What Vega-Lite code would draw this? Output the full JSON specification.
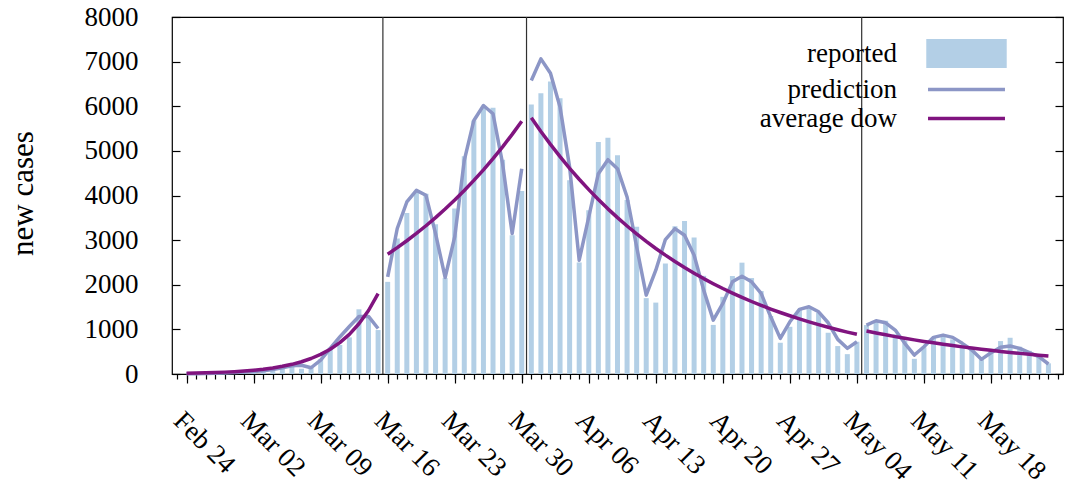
{
  "$schema": "https://vega.github.io/schema/vega-lite/v6.json",
  "width": 891,
  "height": 357,
  "autosize": "none",
  "padding": {"left": 172, "top": 17, "right": 2, "bottom": 113},
  "background": "white",
  "config": {
    "font": "Liberation Serif",
    "view": {"stroke": "black", "strokeWidth": 1.2},
    "axis": {
      "domain": false,
      "grid": false,
      "tickColor": "black",
      "tickWidth": 1.2,
      "labelColor": "black",
      "labelFont": "Liberation Serif",
      "labelFontSize": 27,
      "titleFont": "Liberation Serif",
      "titleColor": "black",
      "titleFontWeight": "normal"
    }
  },
  "datasets": {
    "reported": [
      {"date": "2020-02-24", "cases": 1}, {"date": "2020-02-25", "cases": 2}, {"date": "2020-02-26", "cases": 15},
      {"date": "2020-02-27", "cases": 20}, {"date": "2020-02-28", "cases": 25}, {"date": "2020-02-29", "cases": 20},
      {"date": "2020-03-01", "cases": 55}, {"date": "2020-03-02", "cases": 30}, {"date": "2020-03-03", "cases": 60},
      {"date": "2020-03-04", "cases": 80}, {"date": "2020-03-05", "cases": 130}, {"date": "2020-03-06", "cases": 165},
      {"date": "2020-03-07", "cases": 120}, {"date": "2020-03-08", "cases": 150}, {"date": "2020-03-09", "cases": 330},
      {"date": "2020-03-10", "cases": 590}, {"date": "2020-03-11", "cases": 650}, {"date": "2020-03-12", "cases": 820},
      {"date": "2020-03-13", "cases": 1450}, {"date": "2020-03-14", "cases": 1260}, {"date": "2020-03-15", "cases": 985},
      {"date": "2020-03-16", "cases": 2065}, {"date": "2020-03-17", "cases": 3035}, {"date": "2020-03-18", "cases": 3610},
      {"date": "2020-03-19", "cases": 4080}, {"date": "2020-03-20", "cases": 4040}, {"date": "2020-03-21", "cases": 3355},
      {"date": "2020-03-22", "cases": 2150}, {"date": "2020-03-23", "cases": 3706}, {"date": "2020-03-24", "cases": 4877},
      {"date": "2020-03-25", "cases": 5682}, {"date": "2020-03-26", "cases": 5990}, {"date": "2020-03-27", "cases": 5966},
      {"date": "2020-03-28", "cases": 4800}, {"date": "2020-03-29", "cases": 3110}, {"date": "2020-03-30", "cases": 4100},
      {"date": "2020-03-31", "cases": 6040}, {"date": "2020-04-01", "cases": 6293}, {"date": "2020-04-02", "cases": 6555},
      {"date": "2020-04-03", "cases": 6182}, {"date": "2020-04-04", "cases": 4340}, {"date": "2020-04-05", "cases": 2500},
      {"date": "2020-04-06", "cases": 3668}, {"date": "2020-04-07", "cases": 5197}, {"date": "2020-04-08", "cases": 5295},
      {"date": "2020-04-09", "cases": 4900}, {"date": "2020-04-10", "cases": 3900}, {"date": "2020-04-11", "cases": 3300},
      {"date": "2020-04-12", "cases": 1700}, {"date": "2020-04-13", "cases": 1600}, {"date": "2020-04-14", "cases": 2476},
      {"date": "2020-04-15", "cases": 3310}, {"date": "2020-04-16", "cases": 3430}, {"date": "2020-04-17", "cases": 3057},
      {"date": "2020-04-18", "cases": 2200}, {"date": "2020-04-19", "cases": 1100}, {"date": "2020-04-20", "cases": 1729},
      {"date": "2020-04-21", "cases": 2195}, {"date": "2020-04-22", "cases": 2495}, {"date": "2020-04-23", "cases": 2150},
      {"date": "2020-04-24", "cases": 1860}, {"date": "2020-04-25", "cases": 1300}, {"date": "2020-04-26", "cases": 700},
      {"date": "2020-04-27", "cases": 1058}, {"date": "2020-04-28", "cases": 1447}, {"date": "2020-04-29", "cases": 1470},
      {"date": "2020-04-30", "cases": 1372}, {"date": "2020-05-01", "cases": 924}, {"date": "2020-05-02", "cases": 626},
      {"date": "2020-05-03", "cases": 445}, {"date": "2020-05-04", "cases": 723}, {"date": "2020-05-05", "cases": 1096},
      {"date": "2020-05-06", "cases": 1170}, {"date": "2020-05-07", "cases": 1193}, {"date": "2020-05-08", "cases": 890},
      {"date": "2020-05-09", "cases": 750}, {"date": "2020-05-10", "cases": 340}, {"date": "2020-05-11", "cases": 600},
      {"date": "2020-05-12", "cases": 820}, {"date": "2020-05-13", "cases": 872}, {"date": "2020-05-14", "cases": 776},
      {"date": "2020-05-15", "cases": 649}, {"date": "2020-05-16", "cases": 537}, {"date": "2020-05-17", "cases": 330},
      {"date": "2020-05-18", "cases": 555}, {"date": "2020-05-19", "cases": 738}, {"date": "2020-05-20", "cases": 812},
      {"date": "2020-05-21", "cases": 611}, {"date": "2020-05-22", "cases": 520}, {"date": "2020-05-23", "cases": 405},
      {"date": "2020-05-24", "cases": 239}
    ],
    "prediction": [
      {"date": "2020-02-24", "cases": 5, "period": 1}, {"date": "2020-02-25", "cases": 8, "period": 1},
      {"date": "2020-02-26", "cases": 12, "period": 1}, {"date": "2020-02-27", "cases": 18, "period": 1},
      {"date": "2020-02-28", "cases": 25, "period": 1}, {"date": "2020-02-29", "cases": 32, "period": 1},
      {"date": "2020-03-01", "cases": 42, "period": 1}, {"date": "2020-03-02", "cases": 55, "period": 1},
      {"date": "2020-03-03", "cases": 75, "period": 1}, {"date": "2020-03-04", "cases": 100, "period": 1},
      {"date": "2020-03-05", "cases": 140, "period": 1}, {"date": "2020-03-06", "cases": 185, "period": 1},
      {"date": "2020-03-07", "cases": 195, "period": 1}, {"date": "2020-03-08", "cases": 140, "period": 1},
      {"date": "2020-03-09", "cases": 310, "period": 1}, {"date": "2020-03-10", "cases": 575, "period": 1},
      {"date": "2020-03-11", "cases": 830, "period": 1}, {"date": "2020-03-12", "cases": 1065, "period": 1},
      {"date": "2020-03-13", "cases": 1290, "period": 1}, {"date": "2020-03-14", "cases": 1290, "period": 1},
      {"date": "2020-03-15", "cases": 1020, "period": 1},
      {"date": "2020-03-16", "cases": 2177, "period": 2}, {"date": "2020-03-17", "cases": 3260, "period": 2},
      {"date": "2020-03-18", "cases": 3855, "period": 2}, {"date": "2020-03-19", "cases": 4116, "period": 2},
      {"date": "2020-03-20", "cases": 4004, "period": 2}, {"date": "2020-03-21", "cases": 3147, "period": 2},
      {"date": "2020-03-22", "cases": 2163, "period": 2}, {"date": "2020-03-23", "cases": 3072, "period": 2},
      {"date": "2020-03-24", "cases": 4787, "period": 2}, {"date": "2020-03-25", "cases": 5682, "period": 2},
      {"date": "2020-03-26", "cases": 6017, "period": 2}, {"date": "2020-03-27", "cases": 5831, "period": 2},
      {"date": "2020-03-28", "cases": 4713, "period": 2}, {"date": "2020-03-29", "cases": 3147, "period": 2},
      {"date": "2020-03-30", "cases": 4601, "period": 2},
      {"date": "2020-03-31", "cases": 6577, "period": 3}, {"date": "2020-04-01", "cases": 7062, "period": 3},
      {"date": "2020-04-02", "cases": 6741, "period": 3}, {"date": "2020-04-03", "cases": 5980, "period": 3},
      {"date": "2020-04-04", "cases": 4638, "period": 3}, {"date": "2020-04-05", "cases": 2550, "period": 3},
      {"date": "2020-04-06", "cases": 3519, "period": 3}, {"date": "2020-04-07", "cases": 4489, "period": 3},
      {"date": "2020-04-08", "cases": 4802, "period": 3}, {"date": "2020-04-09", "cases": 4601, "period": 3},
      {"date": "2020-04-10", "cases": 3966, "period": 3}, {"date": "2020-04-11", "cases": 2847, "period": 3},
      {"date": "2020-04-12", "cases": 1767, "period": 3}, {"date": "2020-04-13", "cases": 2326, "period": 3},
      {"date": "2020-04-14", "cases": 3013, "period": 3}, {"date": "2020-04-15", "cases": 3259, "period": 3},
      {"date": "2020-04-16", "cases": 3109, "period": 3}, {"date": "2020-04-17", "cases": 2662, "period": 3},
      {"date": "2020-04-18", "cases": 1879, "period": 3}, {"date": "2020-04-19", "cases": 1208, "period": 3},
      {"date": "2020-04-20", "cases": 1581, "period": 3}, {"date": "2020-04-21", "cases": 2065, "period": 3},
      {"date": "2020-04-22", "cases": 2192, "period": 3}, {"date": "2020-04-23", "cases": 2065, "period": 3},
      {"date": "2020-04-24", "cases": 1805, "period": 3}, {"date": "2020-04-25", "cases": 1282, "period": 3},
      {"date": "2020-04-26", "cases": 799, "period": 3}, {"date": "2020-04-27", "cases": 1170, "period": 3},
      {"date": "2020-04-28", "cases": 1447, "period": 3}, {"date": "2020-04-29", "cases": 1506, "period": 3},
      {"date": "2020-04-30", "cases": 1394, "period": 3}, {"date": "2020-05-01", "cases": 1148, "period": 3},
      {"date": "2020-05-02", "cases": 776, "period": 3}, {"date": "2020-05-03", "cases": 575, "period": 3},
      {"date": "2020-05-04", "cases": 723, "period": 3},
      {"date": "2020-05-05", "cases": 1096, "period": 4}, {"date": "2020-05-06", "cases": 1193, "period": 4},
      {"date": "2020-05-07", "cases": 1148, "period": 4}, {"date": "2020-05-08", "cases": 984, "period": 4},
      {"date": "2020-05-09", "cases": 687, "period": 4}, {"date": "2020-05-10", "cases": 425, "period": 4},
      {"date": "2020-05-11", "cases": 611, "period": 4}, {"date": "2020-05-12", "cases": 821, "period": 4},
      {"date": "2020-05-13", "cases": 872, "period": 4}, {"date": "2020-05-14", "cases": 821, "period": 4},
      {"date": "2020-05-15", "cases": 687, "period": 4}, {"date": "2020-05-16", "cases": 537, "period": 4},
      {"date": "2020-05-17", "cases": 329, "period": 4}, {"date": "2020-05-18", "cases": 477, "period": 4},
      {"date": "2020-05-19", "cases": 597, "period": 4}, {"date": "2020-05-20", "cases": 626, "period": 4},
      {"date": "2020-05-21", "cases": 575, "period": 4}, {"date": "2020-05-22", "cases": 477, "period": 4},
      {"date": "2020-05-23", "cases": 388, "period": 4}, {"date": "2020-05-24", "cases": 224, "period": 4}
    ],
    "average": [
      {"date": "2020-02-24", "cases": 16, "period": 1}, {"date": "2020-02-25", "cases": 21, "period": 1},
      {"date": "2020-02-26", "cases": 26, "period": 1}, {"date": "2020-02-27", "cases": 33, "period": 1},
      {"date": "2020-02-28", "cases": 42, "period": 1}, {"date": "2020-02-29", "cases": 53, "period": 1},
      {"date": "2020-03-01", "cases": 67, "period": 1}, {"date": "2020-03-02", "cases": 85, "period": 1},
      {"date": "2020-03-03", "cases": 107, "period": 1}, {"date": "2020-03-04", "cases": 136, "period": 1},
      {"date": "2020-03-05", "cases": 172, "period": 1}, {"date": "2020-03-06", "cases": 217, "period": 1},
      {"date": "2020-03-07", "cases": 275, "period": 1}, {"date": "2020-03-08", "cases": 347, "period": 1},
      {"date": "2020-03-09", "cases": 439, "period": 1}, {"date": "2020-03-10", "cases": 556, "period": 1},
      {"date": "2020-03-11", "cases": 703, "period": 1}, {"date": "2020-03-12", "cases": 889, "period": 1},
      {"date": "2020-03-13", "cases": 1125, "period": 1}, {"date": "2020-03-14", "cases": 1423, "period": 1},
      {"date": "2020-03-15", "cases": 1800, "period": 1},
      {"date": "2020-03-16", "cases": 2684, "period": 2}, {"date": "2020-03-17", "cases": 2831, "period": 2},
      {"date": "2020-03-18", "cases": 2986, "period": 2}, {"date": "2020-03-19", "cases": 3150, "period": 2},
      {"date": "2020-03-20", "cases": 3322, "period": 2}, {"date": "2020-03-21", "cases": 3504, "period": 2},
      {"date": "2020-03-22", "cases": 3696, "period": 2}, {"date": "2020-03-23", "cases": 3899, "period": 2},
      {"date": "2020-03-24", "cases": 4112, "period": 2}, {"date": "2020-03-25", "cases": 4338, "period": 2},
      {"date": "2020-03-26", "cases": 4575, "period": 2}, {"date": "2020-03-27", "cases": 4826, "period": 2},
      {"date": "2020-03-28", "cases": 5091, "period": 2}, {"date": "2020-03-29", "cases": 5370, "period": 2},
      {"date": "2020-03-30", "cases": 5664, "period": 2},
      {"date": "2020-03-31", "cases": 5742, "period": 3}, {"date": "2020-04-01", "cases": 5435, "period": 3},
      {"date": "2020-04-02", "cases": 5145, "period": 3}, {"date": "2020-04-03", "cases": 4870, "period": 3},
      {"date": "2020-04-04", "cases": 4610, "period": 3}, {"date": "2020-04-05", "cases": 4364, "period": 3},
      {"date": "2020-04-06", "cases": 4131, "period": 3}, {"date": "2020-04-07", "cases": 3910, "period": 3},
      {"date": "2020-04-08", "cases": 3701, "period": 3}, {"date": "2020-04-09", "cases": 3504, "period": 3},
      {"date": "2020-04-10", "cases": 3317, "period": 3}, {"date": "2020-04-11", "cases": 3140, "period": 3},
      {"date": "2020-04-12", "cases": 2972, "period": 3}, {"date": "2020-04-13", "cases": 2813, "period": 3},
      {"date": "2020-04-14", "cases": 2663, "period": 3}, {"date": "2020-04-15", "cases": 2521, "period": 3},
      {"date": "2020-04-16", "cases": 2386, "period": 3}, {"date": "2020-04-17", "cases": 2259, "period": 3},
      {"date": "2020-04-18", "cases": 2138, "period": 3}, {"date": "2020-04-19", "cases": 2024, "period": 3},
      {"date": "2020-04-20", "cases": 1916, "period": 3}, {"date": "2020-04-21", "cases": 1814, "period": 3},
      {"date": "2020-04-22", "cases": 1717, "period": 3}, {"date": "2020-04-23", "cases": 1625, "period": 3},
      {"date": "2020-04-24", "cases": 1538, "period": 3}, {"date": "2020-04-25", "cases": 1456, "period": 3},
      {"date": "2020-04-26", "cases": 1378, "period": 3}, {"date": "2020-04-27", "cases": 1305, "period": 3},
      {"date": "2020-04-28", "cases": 1235, "period": 3}, {"date": "2020-04-29", "cases": 1169, "period": 3},
      {"date": "2020-04-30", "cases": 1107, "period": 3}, {"date": "2020-05-01", "cases": 1048, "period": 3},
      {"date": "2020-05-02", "cases": 992, "period": 3}, {"date": "2020-05-03", "cases": 939, "period": 3},
      {"date": "2020-05-04", "cases": 889, "period": 3},
      {"date": "2020-05-05", "cases": 962, "period": 4}, {"date": "2020-05-06", "cases": 919, "period": 4},
      {"date": "2020-05-07", "cases": 878, "period": 4}, {"date": "2020-05-08", "cases": 838, "period": 4},
      {"date": "2020-05-09", "cases": 801, "period": 4}, {"date": "2020-05-10", "cases": 765, "period": 4},
      {"date": "2020-05-11", "cases": 730, "period": 4}, {"date": "2020-05-12", "cases": 698, "period": 4},
      {"date": "2020-05-13", "cases": 666, "period": 4}, {"date": "2020-05-14", "cases": 637, "period": 4},
      {"date": "2020-05-15", "cases": 608, "period": 4}, {"date": "2020-05-16", "cases": 581, "period": 4},
      {"date": "2020-05-17", "cases": 555, "period": 4}, {"date": "2020-05-18", "cases": 530, "period": 4},
      {"date": "2020-05-19", "cases": 506, "period": 4}, {"date": "2020-05-20", "cases": 484, "period": 4},
      {"date": "2020-05-21", "cases": 462, "period": 4}, {"date": "2020-05-22", "cases": 441, "period": 4},
      {"date": "2020-05-23", "cases": 421, "period": 4}, {"date": "2020-05-24", "cases": 403, "period": 4}
    ],
    "breaks": [
      {"date": "2020-03-15T12:00:00Z"},
      {"date": "2020-03-30T12:00:00Z"},
      {"date": "2020-05-04T12:00:00Z"}
    ]
  },
  "resolve": {"axis": {"x": "independent", "y": "independent"}},
  "layer": [
    {
      "data": {"name": "breaks"},
      "mark": {"type": "rule", "color": "#303030", "strokeWidth": 1.2},
      "encoding": {
        "x": {
          "field": "date",
          "type": "temporal",
          "scale": {
            "type": "utc",
            "domain": [
              {"year": 2020, "month": 2, "date": 23, "utc": true},
              {"year": 2020, "month": 5, "date": 25, "utc": true}
            ]
          },
          "axis": {
            "orient": "bottom",
            "tickCount": {"interval": "day", "step": 1},
            "labels": false,
            "tickSize": 5,
            "title": null
          }
        }
      }
    },
    {
      "data": {"name": "reported"},
      "mark": {"type": "bar", "width": 5},
      "encoding": {
        "x": {
          "field": "date",
          "type": "temporal",
          "axis": {
            "orient": "bottom",
            "values": [
              {"year": 2020, "month": 2, "date": 24, "utc": true},
              {"year": 2020, "month": 3, "date": 2, "utc": true},
              {"year": 2020, "month": 3, "date": 9, "utc": true},
              {"year": 2020, "month": 3, "date": 16, "utc": true},
              {"year": 2020, "month": 3, "date": 23, "utc": true},
              {"year": 2020, "month": 3, "date": 30, "utc": true},
              {"year": 2020, "month": 4, "date": 6, "utc": true},
              {"year": 2020, "month": 4, "date": 13, "utc": true},
              {"year": 2020, "month": 4, "date": 20, "utc": true},
              {"year": 2020, "month": 4, "date": 27, "utc": true},
              {"year": 2020, "month": 5, "date": 4, "utc": true},
              {"year": 2020, "month": 5, "date": 11, "utc": true},
              {"year": 2020, "month": 5, "date": 18, "utc": true}
            ],
            "format": "%b %d",
            "tickSize": 9,
            "labelAngle": 45,
            "labelAlign": "left",
            "labelBaseline": "top",
            "labelPadding": 24,
            "labelFontSize": 27,
            "labelFlush": false,
            "labelOverlap": false,
            "title": null
          }
        },
        "y": {
          "field": "cases",
          "type": "quantitative",
          "scale": {"domain": [0, 8000], "nice": false},
          "axis": {
            "orient": "left",
            "values": [0, 1000, 2000, 3000, 4000, 5000, 6000, 7000, 8000],
            "format": "d",
            "tickSize": -8,
            "labelPadding": 42,
            "title": "new cases",
            "titleFontSize": 31,
            "titleAngle": -90,
            "titleX": -140,
            "titleY": 176,
            "titleAlign": "center",
            "titleBaseline": "alphabetic"
          }
        },
        "color": {
          "datum": "reported",
          "scale": {
            "domain": ["reported", "prediction", "average dow"],
            "range": ["#b3cfe6", "#8c96c6", "#80147f"]
          },
          "legend": {
            "orient": "none",
            "legendX": 779,
            "legendY": 21,
            "padding": 0,
            "title": null,
            "labelFont": "Liberation Serif",
            "labelFontSize": 27,
            "labelColor": "black",
            "labelAlign": "right",
            "labelOffset": -85,
            "labelLimit": 300,
            "symbolSize": 729,
            "symbolStrokeWidth": 3.5,
            "rowPadding": 0,
            "encode": {
              "symbols": {
                "update": {
                  "shape": {"signal": "datum.value === 'reported' ? 'M-2.85,-0.95H2.85V0.95H-2.85Z' : 'M-2.85,0H2.85'"},
                  "fill": {"signal": "datum.value === 'reported' ? '#b3cfe6' : 'transparent'"},
                  "stroke": {"signal": "datum.value === 'reported' ? 'transparent' : (datum.value === 'prediction' ? '#8c96c6' : '#80147f')"},
                  "strokeWidth": {"value": 3.5},
                  "opacity": {"value": 1}
                }
              }
            }
          }
        }
      }
    },
    {
      "data": {"name": "prediction"},
      "mark": {"type": "line", "strokeWidth": 3.5, "strokeJoin": "round"},
      "encoding": {
        "x": {"field": "date", "type": "temporal", "axis": null},
        "y": {
          "field": "cases",
          "type": "quantitative",
          "axis": {
            "orient": "right",
            "values": [0, 1000, 2000, 3000, 4000, 5000, 6000, 7000, 8000],
            "tickSize": -8,
            "labels": false,
            "title": null
          }
        },
        "detail": {"field": "period", "type": "nominal"},
        "color": {"datum": "prediction"}
      }
    },
    {
      "data": {"name": "average"},
      "mark": {"type": "line", "strokeWidth": 3.5, "strokeJoin": "round"},
      "encoding": {
        "x": {"field": "date", "type": "temporal", "axis": null},
        "y": {"field": "cases", "type": "quantitative", "axis": null},
        "detail": {"field": "period", "type": "nominal"},
        "color": {"datum": "average dow"}
      }
    }
  ]
}
